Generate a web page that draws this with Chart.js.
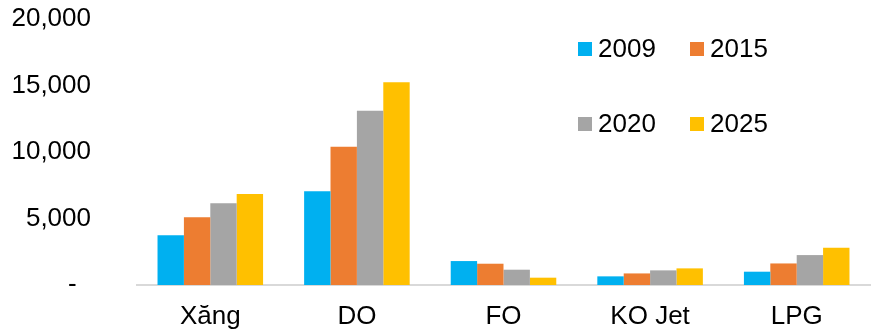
<!DOCTYPE html>
<html>
<head>
<meta charset="utf-8">
<style>
  body { margin: 0; background: #fff; }
  canvas { display: block; }
</style>
<script src="https://cdn.jsdelivr.net/npm/chart.js@4"></script>
</head>
<body>
<canvas id="fuelChart" width="873" height="332"></canvas>
<script>
const categories = ['Xăng', 'DO', 'FO', 'KO Jet', 'LPG'];
const years = ['2009', '2015', '2020', '2025'];
const values2009 = [3750, 7050, 1800, 650, 1000];
const values2015 = [5100, 10400, 1600, 870, 1620];
const values2020 = [6150, 13100, 1150, 1100, 2250];
const values2025 = [6850, 15250, 550, 1250, 2800];
const yTicks = [0, 5000, 10000, 15000, 20000];

const colors = ['#00B0F0', '#ED7D31', '#A5A5A5', '#FFC000'];
const fontFamily = "'Liberation Sans', Arial, sans-serif";
const fontSize = 26;

// two-by-two legend drawn inside the plot, top right
const gridLegend = {
    id: 'gridLegend',
    afterDraw(chart) {
        const ctx = chart.ctx;
        const cols = [578, 690];
        const rows = [49, 124];
        ctx.save();
        ctx.font = fontSize + 'px ' + fontFamily;
        ctx.textBaseline = 'middle';
        ctx.textAlign = 'left';
        chart.data.datasets.forEach((ds, i) => {
            const x = cols[i % 2];
            const y = rows[Math.floor(i / 2)];
            ctx.fillStyle = ds.backgroundColor;
            ctx.fillRect(x, y - 7, 14, 14);
            ctx.fillStyle = '#000';
            ctx.fillText(ds.label, x + 20, y + 1);
        });
        ctx.restore();
    }
};

const seriesValues = [values2009, values2015, values2020, values2025];

new Chart(document.getElementById('fuelChart'), {
    type: 'bar',
    data: {
        labels: categories,
        datasets: years.map((year, i) => ({
            label: year,
            data: seriesValues[i],
            backgroundColor: colors[i],
            categoryPercentage: 0.72,
            barPercentage: 1.0
        }))
    },
    options: {
        responsive: false,
        animation: false,
        layout: { padding: { left: 11, right: 3, top: 19, bottom: 0 } },
        plugins: {
            legend: { display: false },
            tooltip: { enabled: false }
        },
        scales: {
            x: {
                grid: { display: false },
                border: { display: true, color: '#D9D9D9', width: 2 },
                ticks: {
                    color: '#000',
                    font: { family: fontFamily, size: fontSize },
                    padding: 8,
                    maxRotation: 0
                },
                afterFit(axis) {
                    axis.height = 47;
                    axis.paddingLeft = 0;
                    axis.paddingRight = 0;
                }
            },
            y: {
                min: 0,
                max: 20000,
                afterBuildTicks(axis) {
                    axis.ticks = yTicks.map(v => ({ value: v }));
                },
                grid: { display: false, drawTicks: false },
                border: { display: false },
                ticks: {
                    color: '#000',
                    font: { family: fontFamily, size: fontSize },
                    padding: 46,
                    // accounting style: zero shows as a dash
                    callback: v => v === 0 ? '-  ' : v.toLocaleString('en-US')
                },
                afterFit(axis) {
                    axis.width = 126;
                    axis.paddingTop = 0;
                    axis.paddingBottom = 0;
                }
            }
        }
    },
    plugins: [gridLegend]
});
</script>
</body>
</html>
